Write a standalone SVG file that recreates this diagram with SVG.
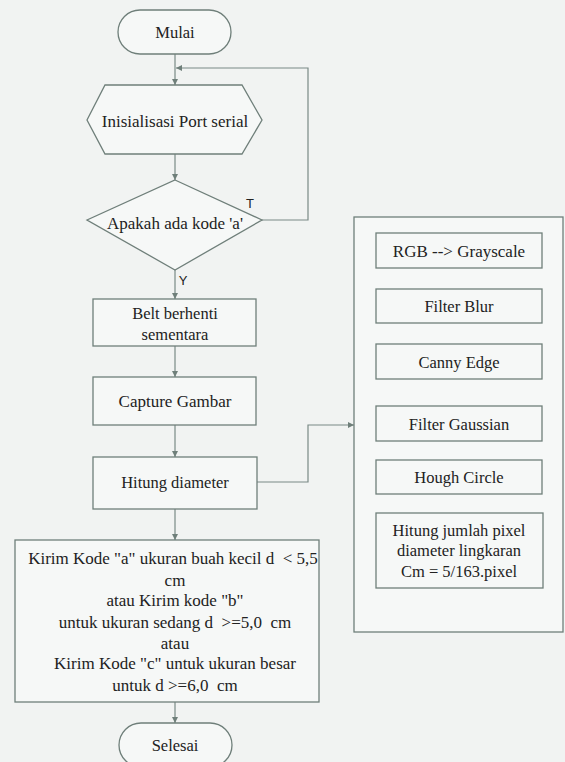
<svg xmlns="http://www.w3.org/2000/svg" width="565" height="762" viewBox="0 0 565 762">
<defs>
<marker id="ah" viewBox="0 0 6 6" refX="6" refY="3" markerWidth="5" markerHeight="5" orient="auto">
<path d="M0,0 L6,3 L0,6 z" fill="#6f7f7a"/>
</marker>
<style>
.s{fill:#f6f8f7;stroke:#6f7f7a;stroke-width:1.3}
.c{fill:none;stroke:#7a8a85;stroke-width:1.2}
text{font-family:'Liberation Serif', 'DejaVu Serif', serif}
.t{font-size:16.5px;fill:#222;text-anchor:middle;dominant-baseline:central;white-space:pre}
.k{font-size:17px}
.l{font-size:13px;fill:#222;text-anchor:middle;dominant-baseline:central;font-family:'Liberation Sans', sans-serif}
</style>
</defs>
<rect width="565" height="762" fill="#f1f3f2"/>
<g id="connectors">
<path class="c" d="M175,54 V85" marker-end="url(#ah)"/>
<path class="c" d="M262,220 H308 V68 H176" marker-end="url(#ah)"/>
<path class="c" d="M175,154 V180" marker-end="url(#ah)"/>
<path class="c" d="M175,270 V299" marker-end="url(#ah)"/>
<path class="c" d="M175,346 V377" marker-end="url(#ah)"/>
<path class="c" d="M175,425 V457" marker-end="url(#ah)"/>
<path class="c" d="M175,509 V540" marker-end="url(#ah)"/>
<path class="c" d="M175,702 V723" marker-end="url(#ah)"/>
<path class="c" d="M257,482 H308 V425 H354" marker-end="url(#ah)"/>
<path class="c" d="M458,268 V289"/>
<path class="c" d="M458,323 V344"/>
<path class="c" d="M458,379 V406"/>
<path class="c" d="M458,441 V460"/>
<path class="c" d="M458,494 V513"/>
</g>
<g id="mulai">
<rect class="s" x="118" y="10" width="113" height="44" rx="22"/>
<text class="t" x="175" y="32">Mulai</text>
</g>
<g id="init">
<polygon class="s" points="87,120 105,85 242,85 262,120 242,154 105,154"/>
<text class="t k" x="175" y="121">Inisialisasi Port serial</text>
</g>
<g id="decision">
<polygon class="s" points="175,180 262,220 175,270 87,220"/>
<text class="t k" x="175" y="223">Apakah ada kode 'a'</text>
<text class="l" x="250" y="203">T</text>
<text class="l" x="183" y="280">Y</text>
</g>
<g id="belt">
<rect class="s" x="93" y="299" width="163" height="47"/>
<text class="t" x="175" y="313">Belt berhenti</text>
<text class="t" x="175" y="334">sementara</text>
</g>
<g id="capture">
<rect class="s" x="93" y="377" width="163" height="48"/>
<text class="t k" x="175" y="401">Capture Gambar</text>
</g>
<g id="hitung">
<rect class="s" x="93" y="457" width="164" height="52"/>
<text class="t" x="175" y="482">Hitung diameter</text>
</g>
<g id="kirim">
<rect class="s" x="15" y="540" width="304" height="162"/>
<text class="t k" x="173" y="558" xml:space="preserve">Kirim Kode "a" ukuran buah kecil d  &lt; 5,5</text>
<text class="t k" x="175" y="580">cm</text>
<text class="t k" x="175" y="600">atau Kirim kode "b"</text>
<text class="t k" x="175" y="622" xml:space="preserve">untuk ukuran sedang d  &gt;=5,0  cm</text>
<text class="t k" x="175" y="643">atau</text>
<text class="t k" x="175" y="663">Kirim Kode "c" untuk ukuran besar</text>
<text class="t k" x="175" y="685" xml:space="preserve">untuk d &gt;=6,0  cm</text>
</g>
<g id="selesai">
<rect class="s" x="119" y="723" width="113" height="44" rx="22"/>
<text class="t" x="175" y="745">Selesai</text>
</g>
<g id="panel">
<rect class="s" x="354" y="217" width="209" height="415"/>
</g>
<g id="rgb">
<rect class="s" x="376" y="233" width="166" height="35"/>
<text class="t k" x="459" y="251">RGB --&gt; Grayscale</text>
</g>
<g id="blur">
<rect class="s" x="376" y="289" width="166" height="34"/>
<text class="t" x="459" y="306">Filter Blur</text>
</g>
<g id="canny">
<rect class="s" x="376" y="344" width="166" height="35"/>
<text class="t" x="459" y="362">Canny Edge</text>
</g>
<g id="gauss">
<rect class="s" x="376" y="406" width="166" height="35"/>
<text class="t" x="459" y="424">Filter Gaussian</text>
</g>
<g id="hough">
<rect class="s" x="376" y="460" width="166" height="34"/>
<text class="t" x="459" y="477">Hough Circle</text>
</g>
<g id="pixel">
<rect class="s" x="376" y="513" width="167" height="75"/>
<text class="t" x="459" y="530">Hitung jumlah pixel</text>
<text class="t" x="459" y="550">diameter lingkaran</text>
<text class="t" x="459" y="571">Cm = 5/163.pixel</text>
</g>
</svg>
